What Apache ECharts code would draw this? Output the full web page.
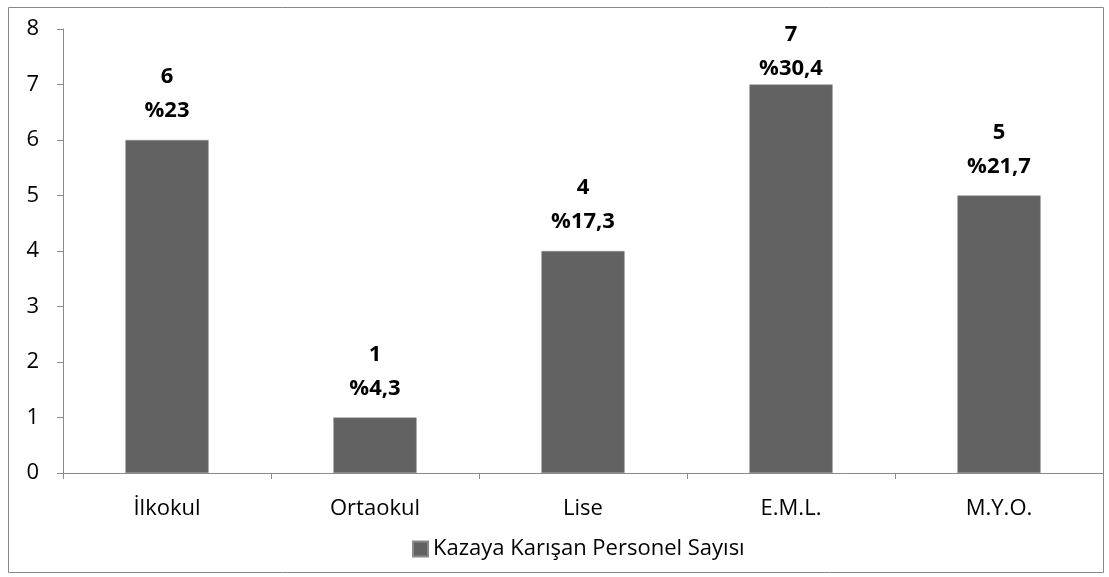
<!DOCTYPE html>
<html>
<head>
<meta charset="utf-8">
<script src="https://cdn.jsdelivr.net/npm/echarts@6/dist/echarts.min.js"></script>
<style>
  html, body { margin: 0; padding: 0; background: #fff; }
  #chart { width: 1109px; height: 577px; }
</style>
</head>
<body>
<div id="chart"></div>
<script>
// Eğitim durumu
const categories = ["İlkokul", "Ortaokul", "Lise", "E.M.L.", "M.Y.O."];
const counts = [6, 1, 4, 7, 5];
const percents = ["%23", "%4,3", "%17,3", "%30,4", "%21,7"];
const seriesName = "Kazaya Karışan Personel Sayısı";

const fontFamily = "'Open Sans', 'Noto Sans', sans-serif";

const chart = echarts.init(document.getElementById("chart"));

// en yüksek çubuğun etiketi grafik alanına sığsın diye aşağı kaydırılır
const maxCount = Math.max(...counts);
const barData = counts.map((v) =>
  v === maxCount ? { value: v, label: { offset: [0, 13] } } : v
);

const option = {
  animation: false,
  textStyle: { fontFamily: fontFamily },
  graphic: [
    {
      type: "rect",
      shape: { x: 8.5, y: 7.5, width: 1095, height: 565 },
      style: { fill: "none", stroke: "#888", lineWidth: 1 },
      z: -1,
    },
  ],
  grid: {
    left: 63,
    right: 6,
    top: 29,
    bottom: 104,
  },
  legend: {
    top: 538,
    left: 412,
    padding: 0,
    itemWidth: 15,
    itemHeight: 15,
    itemGap: 6,
    icon: "rect",
    textStyle: { fontSize: 22, color: "#000", fontFamily: fontFamily },
    data: [seriesName],
  },
  xAxis: {
    type: "category",
    data: categories,
    axisLine: { lineStyle: { color: "#8a8a8a" } },
    axisTick: { show: true, length: 6, lineStyle: { color: "#8a8a8a" } },
    axisLabel: { fontSize: 22, color: "#000", margin: 25 },
  },
  yAxis: {
    type: "value",
    min: 0,
    max: 8,
    interval: 1,
    axisLine: { show: true, lineStyle: { color: "#8a8a8a" } },
    axisTick: { show: true, length: 6, lineStyle: { color: "#8a8a8a" } },
    axisLabel: { fontSize: 22, color: "#000", margin: 24 },
    splitLine: { show: false },
  },
  series: [
    {
      name: seriesName,
      type: "bar",
      data: barData,
      barWidth: "40%",
      itemStyle: { color: "#626262", borderColor: "#8a8a8a", borderWidth: 0.5 },
      label: {
        show: true,
        position: "top",
        distance: 12,
        formatter: (p) => p.value + "\n" + percents[p.dataIndex],
        fontSize: 22,
        fontWeight: "bold",
        color: "#000",
        lineHeight: 34,
        align: "center",
      },
    },
  ],
};

chart.setOption(option);
</script>
</body>
</html>
